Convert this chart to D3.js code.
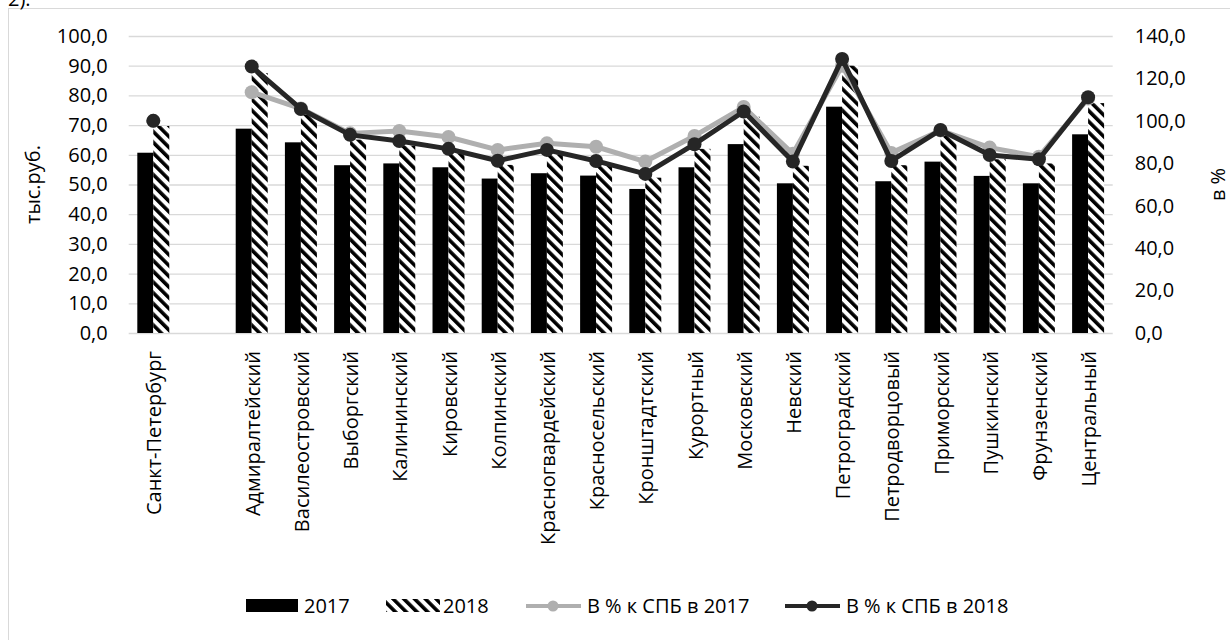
<!DOCTYPE html>
<html>
<head>
<meta charset="utf-8">
<script src="https://cdn.jsdelivr.net/npm/d3@7"></script>
<style>
  body { margin: 0; background: #fff; }
  text { font-family: "Open Sans", "DejaVu Sans", sans-serif; fill: #000; }
</style>
</head>
<body>
<div id="chart"></div>
<script>
// data
var districts = ["Санкт-Петербург", "", "Адмиралтейский", "Василеостровский", "Выборгский", "Калининский",
    "Кировский", "Колпинский", "Красногвардейский", "Красносельский", "Кронштадтский", "Курортный",
    "Московский", "Невский", "Петроградский", "Петродворцовый", "Приморский", "Пушкинский",
    "Фрунзенский", "Центральный"];
var val2017 = [60.7, null, 68.8, 64.2, 56.5, 57.1, 55.8, 52.0, 53.8, 53.0, 48.5, 55.8, 63.6, 50.4, 76.2, 51.1, 57.7, 52.9, 50.4, 66.9];
var val2018 = [69.7, null, 87.5, 73.6, 65.1, 63.1, 60.5, 56.6, 60.1, 56.5, 52.3, 62.0, 72.8, 56.3, 90.0, 56.5, 66.7, 58.5, 57.1, 77.4];
var pct2017 = [100, null, 113.5, 105.8, 94.1, 95.2, 92.4, 86.3, 89.4, 87.8, 80.8, 92.9, 106.5, 84.5, 126.0, 84.9, 95.5, 87.4, 83.1, 110.5];
var pct2018 = [100, null, 125.6, 105.6, 93.4, 90.5, 86.8, 81.2, 86.3, 81.1, 75.0, 89.0, 104.4, 80.8, 129.2, 81.1, 95.7, 83.9, 81.9, 111.1];
var leftTicks = [0, 10, 20, 30, 40, 50, 60, 70, 80, 90, 100];
var rightTicks = [0, 20, 40, 60, 80, 100, 120, 140];
var years = ["2017", "2018"];

var W = 1230, H = 640;
var plot = {left: 128.7, right: 1112.7, top: 36, bottom: 333};
var fs = "20px";

var svg = d3.select("#chart").append("svg")
    .attr("width", W)
    .attr("height", H);

var defs = svg.append("defs");
var pat = defs.append("pattern")
    .attr("id", "hatch")
    .attr("patternUnits", "userSpaceOnUse")
    .attr("width", 7.6)
    .attr("height", 20)
    .attr("patternTransform", "rotate(-45)");
pat.append("rect").attr("width", 7.6).attr("height", 20).attr("fill", "#fff");
pat.append("rect").attr("width", 3.6).attr("height", 20).attr("fill", "#000");

// outer frame and the cut-off caption
svg.append("rect")
    .attr("x", 8.5).attr("y", 8.5)
    .attr("width", 1400).attr("height", 800)
    .attr("fill", "#fff")
    .attr("stroke", "#d9d9d9");
svg.append("text")
    .attr("x", 8).attr("y", 6)
    .style("font-size", fs)
    .text("2).");

var keys = districts.map(function(d, i) { return i; });

var x = d3.scaleBand()
    .domain(keys)
    .range([plot.left, plot.right])
    .paddingInner(0.35)
    .paddingOuter(0.175);

var x1 = d3.scaleBand()
    .domain(years)
    .range([0, x.bandwidth()]);

var y = d3.scaleLinear().domain([0, 100]).range([plot.bottom, plot.top]);
var y2 = d3.scaleLinear().domain([0, 140]).range([plot.bottom, plot.top]);

var fmt = function(v) { return d3.format(".1f")(v).replace(".", ","); };

// grid
svg.append("g")
    .attr("class", "grid")
    .attr("transform", "translate(" + plot.left + ",0)")
    .call(d3.axisLeft(y).tickValues(leftTicks).tickSize(-(plot.right - plot.left)).tickFormat(""))
    .call(function(g) { g.select(".domain").remove(); })
    .selectAll("line")
    .attr("stroke", "#d9d9d9")
    .attr("stroke-width", 1.3);

// left axis labels
svg.append("g")
    .attr("transform", "translate(" + plot.left + ",0)")
    .call(d3.axisLeft(y).tickValues(leftTicks).tickSize(0).tickPadding(21).tickFormat(fmt))
    .call(function(g) { g.select(".domain").remove(); })
    .selectAll("text")
    .style("font-size", fs)
    .style("font-family", "'Open Sans', sans-serif")
    .attr("fill", "#000");

// right axis labels
svg.append("g")
    .attr("transform", "translate(" + plot.right + ",0)")
    .call(d3.axisRight(y2).tickValues(rightTicks).tickSize(0).tickPadding(22).tickFormat(fmt))
    .call(function(g) { g.select(".domain").remove(); })
    .selectAll("text")
    .style("font-size", fs)
    .style("font-family", "'Open Sans', sans-serif")
    .attr("fill", "#000");

// bars
var rows = keys.filter(function(i) { return val2017[i] != null; });

var groups = svg.append("g").selectAll("g")
    .data(rows)
    .enter().append("g")
    .attr("transform", function(i) { return "translate(" + x(i) + ",0)"; });

groups.append("rect")
    .attr("x", x1("2017"))
    .attr("width", x1.bandwidth())
    .attr("y", function(i) { return y(val2017[i]); })
    .attr("height", function(i) { return y(0) - y(val2017[i]); })
    .attr("fill", "#000");

groups.append("rect")
    .attr("x", x1("2018"))
    .attr("width", x1.bandwidth())
    .attr("y", function(i) { return y(val2018[i]); })
    .attr("height", function(i) { return y(0) - y(val2018[i]); })
    .attr("fill", "url(#hatch)");

// lines
function cx(i) { return x(i) + x.bandwidth() / 2; }

var series = [
    {vals: pct2017, color: "#afafaf"},
    {vals: pct2018, color: "#262626"}
];

series.forEach(function(s) {
    var line = d3.line()
        .defined(function(i) { return s.vals[i] != null; })
        .x(cx)
        .y(function(i) { return y2(s.vals[i]); });
    svg.append("path")
        .datum(keys)
        .attr("d", line)
        .attr("fill", "none")
        .attr("stroke", s.color)
        .attr("stroke-width", 5)
        .attr("stroke-linejoin", "round");
    svg.append("g").selectAll("circle")
        .data(rows)
        .enter().append("circle")
        .attr("cx", cx)
        .attr("cy", function(i) { return y2(s.vals[i]); })
        .attr("r", 7)
        .attr("fill", s.color);
});

// category labels
svg.append("g").selectAll("text")
    .data(rows)
    .enter().append("text")
    .attr("transform", function(i) { return "translate(" + (cx(i) + 1) + "," + (plot.bottom + 18) + ") rotate(-90)"; })
    .attr("dy", "0.35em")
    .style("text-anchor", "end")
    .style("font-size", fs)
    .text(function(i) { return districts[i]; });

// axis titles
svg.append("text")
    .attr("transform", "translate(33," + ((plot.top + plot.bottom) / 2) + ") rotate(-90)")
    .attr("dy", "0.35em")
    .style("text-anchor", "middle")
    .style("font-size", fs)
    .text("тыс.руб.");

svg.append("text")
    .attr("transform", "translate(1218," + ((plot.top + plot.bottom) / 2) + ") rotate(-90)")
    .attr("dy", "0.35em")
    .style("text-anchor", "middle")
    .style("font-size", fs)
    .text("в %");

// legend
var legend = svg.append("g").attr("transform", "translate(0,606)");

legend.append("rect").attr("x", 246).attr("y", -7).attr("width", 52).attr("height", 13).attr("fill", "#000");
legend.append("text").attr("x", 304).attr("dy", "0.35em").style("font-size", fs).text("2017");

legend.append("rect").attr("x", 386).attr("y", -7).attr("width", 54).attr("height", 13).attr("fill", "url(#hatch)");
legend.append("text").attr("x", 443).attr("dy", "0.35em").style("font-size", fs).text("2018");

[{x0: 526, label: "В % к СПБ в 2017", color: "#afafaf"},
 {x0: 785, label: "В % к СПБ в 2018", color: "#262626"}].forEach(function(it) {
    legend.append("line")
        .attr("x1", it.x0).attr("x2", it.x0 + 55)
        .attr("stroke", it.color).attr("stroke-width", 4);
    legend.append("circle")
        .attr("cx", it.x0 + 27).attr("r", 5.5)
        .attr("fill", it.color);
    legend.append("text")
        .attr("x", it.x0 + 61).attr("dy", "0.35em")
        .style("font-size", fs)
        .text(it.label);
});
</script>
</body>
</html>
